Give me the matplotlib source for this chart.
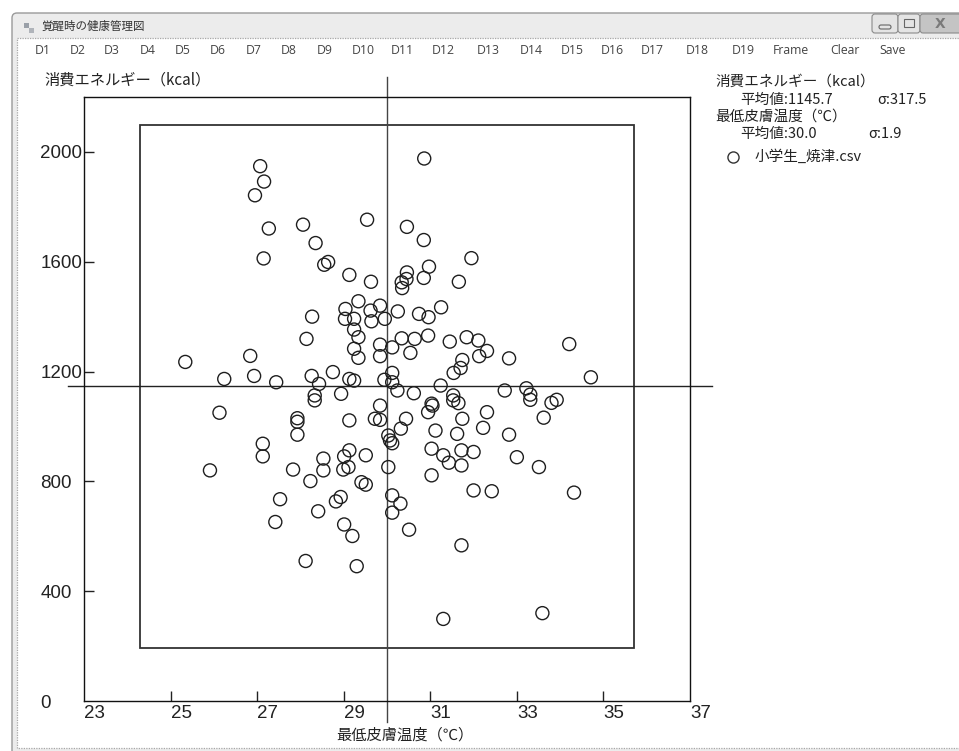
import matplotlib.pyplot as plt
from matplotlib.patches import Rectangle, FancyBboxPatch

# 最低皮膚温度 (℃) と 消費エネルギー (kcal)
temp = [
    27.07, 27.16, 26.95, 27.27, 27.15, 28.06, 28.35, 28.55, 28.64, 29.13,
    29.63, 29.54, 30.86, 30.46, 30.85, 31.95, 30.46, 30.45, 30.34, 30.35,
    30.97, 30.85, 31.66, 29.34, 29.04, 29.03, 29.24, 29.62, 29.64, 29.84,
    29.95, 30.25, 30.74, 30.96, 31.25, 28.27, 28.14, 29.24, 29.34, 29.84,
    30.12, 30.34, 30.64, 30.95, 31.45, 31.84, 32.11, 29.24, 29.84, 30.54,
    29.34, 31.74, 25.34, 26.84, 34.21, 32.31, 32.82, 32.13, 26.24, 26.93,
    27.44, 28.26, 28.43, 28.75, 29.13, 29.24, 29.94, 30.12, 30.12, 30.24,
    30.62, 31.24, 31.70, 31.54, 28.33, 28.33, 28.94, 26.13, 27.93, 27.93,
    27.93, 29.13, 29.84, 29.72, 29.84, 30.03, 30.07, 30.12, 30.32, 30.44,
    30.95, 31.03, 31.05, 31.53, 31.53, 31.65, 31.74, 31.12, 31.62, 27.13,
    27.13, 25.91, 27.83, 28.53, 28.53, 28.23, 29.13, 29.01, 28.99, 29.11,
    29.51, 29.41, 29.51, 30.03, 31.03, 31.30, 31.43, 31.72, 31.72, 32.00,
    31.03, 32.00, 27.53, 27.42, 28.41, 28.82, 28.93, 29.01, 29.20, 30.12,
    30.31, 30.12, 30.51, 31.72, 28.12, 29.30, 31.30, 34.71, 32.72, 33.22,
    33.31, 33.31, 33.80, 33.92, 33.62, 32.31, 32.22, 32.82, 33.00, 33.51,
    32.42, 34.32, 33.59,
]
energy = [
    1948, 1892, 1842, 1721, 1612, 1735, 1668, 1589, 1599, 1552,
    1527, 1753, 1976, 1727, 1679, 1613, 1561, 1537, 1525, 1504,
    1582, 1541, 1527, 1456, 1428, 1392, 1392, 1422, 1383, 1440,
    1392, 1419, 1410, 1398, 1434, 1400, 1319, 1353, 1325, 1298,
    1288, 1321, 1319, 1331, 1309, 1325, 1313, 1283, 1256, 1268,
    1250, 1242, 1235, 1257, 1300, 1275, 1248, 1256, 1173, 1184,
    1161, 1184, 1155, 1198, 1173, 1167, 1170, 1195, 1161, 1131,
    1121, 1149, 1213, 1195, 1113, 1095, 1119, 1050, 1030, 1017,
    970, 1022, 1076, 1028, 1024, 967, 949, 939, 992, 1028,
    1052, 1083, 1076, 1113, 1095, 1085, 1028, 985, 973, 937,
    891, 840, 843, 883, 840, 801, 913, 891, 843, 852,
    895, 797, 788, 852, 919, 895, 868, 913, 858, 907,
    822, 767, 735, 652, 691, 727, 743, 643, 601, 749,
    719, 686, 624, 567, 510, 491, 299, 1179, 1131, 1139,
    1116, 1097, 1086, 1097, 1032, 1052, 995, 970, 888, 852,
    764, 759, 320,
]

# 統計値
energy_mean, energy_sd = 1145.7, 317.5
temp_mean, temp_sd = 30.0, 1.9

x_ticks = [23, 25, 27, 29, 31, 33, 35, 37]
y_ticks = [0, 400, 800, 1200, 1600, 2000]
menu_items = ['D1', 'D2', 'D3', 'D4', 'D5', 'D6', 'D7', 'D8', 'D9', 'D10',
              'D11', 'D12', 'D13', 'D14', 'D15', 'D16', 'D17', 'D18', 'D19',
              'Frame', 'Clear', 'Save']
menu_x = [35, 70, 104, 140, 175, 210, 246, 281, 317, 352,
          391, 432, 477, 520, 561, 601, 641, 686, 732, 773, 830, 879]

JP = ['Noto Sans CJK JP', 'DejaVu Sans']
W, H = 959, 751

fig = plt.figure(figsize=(W / 100, H / 100), dpi=100)
fig.patch.set_facecolor('white')

# ウィンドウ枠 (ピクセル座標)
bg = fig.add_axes([0, 0, 1, 1], zorder=0)
bg.set_xlim(0, W)
bg.set_ylim(H, 0)
bg.axis('off')

bg.add_patch(FancyBboxPatch((12, 13), 970, 760, boxstyle='round,pad=0,rounding_size=5',
                            facecolor='#ececec', edgecolor='#9a9a9a', lw=1))
bg.add_patch(Rectangle((17, 38), 950, 710, facecolor='white', edgecolor='#a8a8a8',
                       lw=0.9, ls=(0, (1, 1))))
bg.text(42, 26, '覚醒時の健康管理図', fontsize=8.3, family=JP, color='#333333', va='center')
bg.add_patch(Rectangle((24, 23), 5, 5, facecolor='#9aa0a8', edgecolor='none'))
bg.add_patch(Rectangle((29, 28), 5, 5, facecolor='#b0b4ba', edgecolor='none'))

# 最小化・最大化・閉じるボタン
for bx, bw, fc in [(872, 26, '#e4e4e4'), (898, 22, '#e4e4e4'), (920, 45, '#c4c4c4')]:
    bg.add_patch(FancyBboxPatch((bx, 14), bw, 19, boxstyle='round,pad=0,rounding_size=3',
                                facecolor=fc, edgecolor='#8a8a8a', lw=0.8))
bg.add_patch(FancyBboxPatch((879, 25), 12, 4, boxstyle='round,pad=0,rounding_size=2',
                            facecolor='none', edgecolor='#666666', lw=0.8))
bg.add_patch(Rectangle((904, 19), 10, 8, facecolor='none', edgecolor='#666666', lw=0.8))
bg.text(940, 24, 'X', fontsize=10, fontweight='bold', color='#7a7a7a', ha='center', va='center')

for label, mx in zip(menu_items, menu_x):
    bg.text(mx, 51, label, fontsize=8.8, family='Open Sans', color='#444444', va='center')

# 軸ラベル
bg.text(44, 80, '消費エネルギー（kcal）', fontsize=11, family=JP, color='#222222', va='center')
bg.text(405, 735, '最低皮膚温度（℃）', fontsize=11, family=JP, color='#222222',
        ha='center', va='center')

# 統計値と凡例
bg.text(715, 82, '消費エネルギー（kcal）', fontsize=10.5, family=JP, color='#222222', va='center')
bg.text(740, 100, f'平均値:{energy_mean:.1f}', fontsize=10.5, family=JP, color='#222222', va='center')
bg.text(877, 100, f'σ:{energy_sd:.1f}', fontsize=10.5, family=JP, color='#222222', va='center')
bg.text(715, 117, '最低皮膚温度（℃）', fontsize=10.5, family=JP, color='#222222', va='center')
bg.text(740, 134, f'平均値:{temp_mean:.1f}', fontsize=10.5, family=JP, color='#222222', va='center')
bg.text(868, 134, f'σ:{temp_sd:.1f}', fontsize=10.5, family=JP, color='#222222', va='center')
bg.plot([733], [157], 'o', ms=8, mfc='none', mec='#333333', mew=1)
bg.text(755, 157, '小学生_焼津.csv', fontsize=10.5, family=JP, color='#222222', va='center')

# 散布図
ax = fig.add_axes([84 / W, 1 - 701 / H, 606 / W, 604 / H], zorder=1)
ax.set_facecolor('none')
ax.set_xlim(23, 37)
ax.set_ylim(0, 2200)

ax.scatter(temp, energy, s=88, facecolors='none', edgecolors='#1e1e1e', linewidths=1.0, zorder=3)

# 平均 ± 3σ の枠
ax.add_patch(Rectangle((temp_mean - 3 * temp_sd, energy_mean - 3 * energy_sd),
                       6 * temp_sd, 6 * energy_sd, fill=False, edgecolor='#333333', lw=1.3))

# 平均値の十字線
ax.axhline(energy_mean, xmin=-0.027, xmax=1.036, color='#222222', lw=1.0, clip_on=False)
ax.axvline(temp_mean, ymin=-0.035, ymax=1.033, color='#444444', lw=1.0, clip_on=False)

for s in ax.spines.values():
    s.set_color('#111111')
    s.set_linewidth(1.0)

ax.set_xticks(x_ticks)
ax.set_xticklabels([str(t) for t in x_ticks], ha='left')
ax.set_yticks(y_ticks)
ax.set_yticklabels([str(t) for t in y_ticks], ha='left')
ax.tick_params(direction='in', length=7.5, width=1, color='#222222',
               labelsize=13.5, labelcolor='#222222', left=True, bottom=True)
ax.tick_params(axis='y', pad=31.5)
ax.tick_params(axis='x', pad=3)
for lab in ax.get_xticklabels() + ax.get_yticklabels():
    lab.set_family('Liberation Sans')
# 両端の目盛り線は枠と重なるので非表示
ax.xaxis.get_major_ticks()[0].tick1line.set_visible(False)
ax.xaxis.get_major_ticks()[-1].tick1line.set_visible(False)
ax.yaxis.get_major_ticks()[0].tick1line.set_visible(False)

fig.savefig('out.png', dpi=100, facecolor='white')
